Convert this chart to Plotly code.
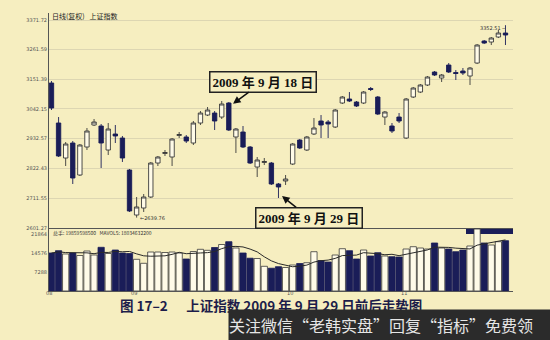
import plotly.graph_objects as go
import pandas as pd

dates = [
    "2009-08-14", "2009-08-17", "2009-08-18", "2009-08-19", "2009-08-20", "2009-08-21",
    "2009-08-24", "2009-08-25", "2009-08-26", "2009-08-27", "2009-08-28", "2009-08-31",
    "2009-09-01", "2009-09-02", "2009-09-03", "2009-09-04", "2009-09-07", "2009-09-08",
    "2009-09-09", "2009-09-10", "2009-09-11", "2009-09-14", "2009-09-15", "2009-09-16",
    "2009-09-17", "2009-09-18", "2009-09-21", "2009-09-22", "2009-09-23", "2009-09-24",
    "2009-09-25", "2009-09-28", "2009-09-29", "2009-09-30",
    "2009-10-09", "2009-10-12", "2009-10-13", "2009-10-14", "2009-10-15", "2009-10-16",
    "2009-10-19", "2009-10-20", "2009-10-21", "2009-10-22", "2009-10-23", "2009-10-26",
    "2009-10-27", "2009-10-28", "2009-10-29", "2009-10-30",
    "2009-11-02", "2009-11-03", "2009-11-04", "2009-11-05", "2009-11-06", "2009-11-09",
    "2009-11-10", "2009-11-11", "2009-11-12", "2009-11-13", "2009-11-16", "2009-11-17",
    "2009-11-18", "2009-11-19", "2009-11-20",
]

open_ = [3138.4, 2990.2, 2860.6, 2916.1, 2797.6, 2901.3, 2982.8, 2979.1, 2890.2, 2949.5, 2934.6, 2816.1,
         2649.4, 2675.4, 2716.1, 2842.0, 2877.2, 2864.3, 2943.9, 2938.4, 2916.1, 2990.2, 3019.8, 3027.2,
         3012.4, 3064.3, 2938.4, 2956.9, 2901.3, 2827.2, 2843.9, 2842.0, 2764.3, 2775.4,
         2838.3, 2927.2, 2890.2, 2949.5, 2997.6, 2993.9, 2975.4, 3064.3, 3079.1, 3068.0, 3064.3, 3118.0,
         3086.5, 3012.4, 2979.1, 3012.4,
         2934.6, 3086.5, 3105.0, 3131.0, 3179.1, 3156.9, 3205.0, 3177.3, 3182.8, 3164.3, 3212.4, 3293.9,
         3290.2, 3308.8, 3323.6]

high = [3145.8, 3012.4, 2919.8, 2923.5, 2912.4, 2971.7, 3005.0, 2986.5, 2990.2, 2982.8, 2942.1, 2819.8,
        2716.1, 2727.2, 2845.8, 2868.0, 2890.2, 2934.6, 2956.9, 2945.8, 2997.6, 3034.7, 3049.5, 3034.7,
        3071.7, 3068.0, 2971.7, 2979.1, 2905.0, 2864.3, 2860.6, 2845.8, 2768.0, 2797.6,
        2916.1, 2930.9, 2942.1, 3008.7, 3019.8, 3001.3, 3042.1, 3090.2, 3105.0, 3071.7, 3108.7, 3123.6,
        3090.2, 3034.7, 2990.2, 3027.2,
        3082.8, 3123.6, 3134.7, 3164.3, 3182.8, 3171.7, 3212.4, 3186.5, 3193.9, 3197.6, 3282.8, 3297.6,
        3308.8, 3334.7, 3352.51]

low = [3038.4, 2864.3, 2830.9, 2764.3, 2793.9, 2890.2, 2979.1, 2823.5, 2871.7, 2916.1, 2845.8, 2660.6,
       2639.76, 2660.6, 2712.4, 2830.9, 2868.0, 2830.9, 2934.6, 2916.1, 2908.7, 2982.8, 3016.1, 2964.3,
       3005.0, 2960.6, 2879.1, 2897.6, 2838.3, 2790.2, 2834.6, 2760.6, 2712.4, 2760.6,
       2834.6, 2893.9, 2886.5, 2945.8, 2934.6, 2934.6, 2971.7, 3060.6, 3068.0, 3049.5, 3060.6, 3108.7,
       3019.8, 2982.8, 2953.2, 2990.2,
       2930.9, 3082.8, 3101.3, 3127.3, 3164.3, 3142.1, 3175.4, 3149.5, 3168.0, 3131.0, 3208.7, 3282.8,
       3279.1, 3305.0, 3279.1]

close = [3045.8, 2868.0, 2912.4, 2786.5, 2908.7, 2960.6, 2993.9, 2916.1, 2968.0, 2942.1, 2860.6, 2664.3,
         2679.1, 2716.1, 2842.0, 2864.3, 2880.9, 2930.9, 2947.6, 2923.5, 2990.2, 3027.2, 3038.4, 2997.6,
         3060.6, 2964.3, 2968.0, 2901.3, 2842.0, 2853.2, 2847.6, 2764.3, 2753.2, 2782.8,
         2912.4, 2897.6, 2938.4, 2971.7, 2982.8, 2986.5, 3038.4, 3086.5, 3071.7, 3053.2, 3105.0, 3114.3,
         3023.5, 3031.0, 2960.6, 2997.6,
         3079.1, 3119.8, 3131.0, 3160.6, 3168.0, 3168.0, 3179.1, 3173.6, 3175.4, 3193.9, 3279.1, 3286.5,
         3305.0, 3323.6, 3316.2]

volume = [14577, 15459, 14193, 14577, 13618, 15344, 13810, 16763, 14385, 15728, 14577, 14385,
          12160, 10626, 14960, 14960, 14769, 14960, 14577, 12275, 15152, 15996, 15613, 16687,
          17837, 18911, 16495, 14577, 12582, 12467, 9475, 8746, 9321, 9015,
          9974, 10549, 10856, 15075, 11700, 11124, 13810, 16226, 15459, 12275, 15728, 13426,
          14692, 13426, 13157, 13042,
          16111, 16993, 16495, 16111, 18413, 16495, 16111, 15075, 15728, 17262, 23783, 18413,
          17646, 18911, 19295]

price_ticks = [2601.27, 2711.55, 2822.43, 2932.57, 3042.15, 3151.39, 3261.59, 3371.72]
vol_ticks = [7288, 14576, 21864]
month_labels = ["08", "09", "10", "11"]

BG = "#f6eec0"
NAVY = "#1a1d58"
HOLLOW = "#fffbe8"
EDGE = "#3a3a3a"

idx = list(range(len(dates)))
up = [c >= o for o, c in zip(open_, close)]
ma5 = pd.Series(volume).rolling(5, min_periods=1).mean().tolist()

# first trading day index of each month
month_first = []
seen = set()
for i, d in enumerate(dates):
    m = d[5:7]
    if m not in seen:
        seen.add(m)
        month_first.append(i)

fig = go.Figure()

fig.add_trace(go.Candlestick(
    x=idx, open=open_, high=high, low=low, close=close,
    increasing=dict(fillcolor=HOLLOW, line=dict(color=EDGE, width=0.9)),
    decreasing=dict(fillcolor=NAVY, line=dict(color=NAVY, width=0.9)),
    whiskerwidth=0, showlegend=False, xaxis="x", yaxis="y", hoverinfo="skip",
))

fig.add_trace(go.Bar(
    x=idx, y=volume, width=0.88,
    marker=dict(color=[HOLLOW if u else NAVY for u in up],
                line=dict(color=[EDGE if u else NAVY for u in up], width=0.8)),
    showlegend=False, xaxis="x2", yaxis="y2", hoverinfo="skip",
))

fig.add_trace(go.Scatter(
    x=idx, y=ma5, mode="lines", line=dict(color="#2a2a2a", width=1),
    showlegend=False, xaxis="x2", yaxis="y2", hoverinfo="skip",
))

split = 0.2266
xr = [-0.35, 65.06]
tickfont = dict(family="DejaVu Sans", size=5, color="#555")

fig.update_layout(
    width=550, height=340,
    margin=dict(l=49, r=37, t=13, b=49),
    paper_bgcolor=BG, plot_bgcolor=BG,
    boxgap=0.12,
    xaxis=dict(domain=[0, 1], anchor="y", range=xr, showticklabels=False, showgrid=False,
               zeroline=False, showline=True, linecolor="#555", linewidth=1,
               rangeslider=dict(visible=False)),
    xaxis2=dict(domain=[0, 1], anchor="y2", range=xr, matches="x", showgrid=False, zeroline=False,
                showline=True, linecolor="#555", linewidth=1, showticklabels=False, ticks=""),
    yaxis=dict(domain=[split, 1], range=[2601.27, 3397.7], tickvals=price_ticks,
               ticktext=[f"{v:.2f}" for v in price_ticks], tickfont=tickfont,
               showgrid=True, gridcolor="#ddd6b2", gridwidth=1, zeroline=False,
               showline=True, linecolor="#555", linewidth=1, ticks=""),
    yaxis2=dict(domain=[0, split], range=[0, 24167], tickvals=vol_ticks,
                ticktext=[str(v) for v in vol_ticks], tickfont=tickfont,
                showgrid=False, zeroline=False, showline=True, linecolor="#555",
                linewidth=1, ticks=""),
)

def px(xp):
    return (xp - 49) / 464.0

def py(yp):
    return (291 - yp) / 278.0

fig.add_shape(type="rect", xref="paper", yref="paper", x0=px(466), x1=1.0, y0=py(234), y1=py(228),
              fillcolor=NAVY, line=dict(width=0), layer="below")

ann = []
# month tick labels just under the volume axis
for i, lab in zip(month_first, month_labels):
    ann.append(dict(text=lab, xref="x2", yref="paper", x=i - 0.35, y=py(292.6),
                    xanchor="center", yanchor="middle", showarrow=False,
                    font=dict(family="DejaVu Sans", size=5, color="#555")))

ann.append(dict(text="日线(复权)   上证指数", xref="paper", yref="paper", x=px(50), y=py(16),
                xanchor="left", yanchor="middle", showarrow=False,
                font=dict(family="Noto Sans CJK SC", size=7, color="#222")))
ann.append(dict(text="总手: 19859598500   MAVOL5: 18034632200", xref="paper", yref="paper",
                x=px(51), y=py(233), xanchor="left", yanchor="middle", showarrow=False,
                font=dict(family="Noto Sans CJK SC", size=5, color="#333")))
ann.append(dict(text="←2639.76", xref="x", yref="y", x=12.2, y=min(low),
                xanchor="left", yanchor="middle", showarrow=False,
                font=dict(family="DejaVu Sans", size=5, color="#333")))
ann.append(dict(text="3352.51 ─", xref="x", yref="y", x=64.3, y=max(high) - 12,
                xanchor="right", yanchor="middle", showarrow=False,
                font=dict(family="DejaVu Sans", size=5, color="#333")))

box_font = dict(family="Liberation Serif, Noto Sans CJK SC", size=13, color="#111")
i18 = dates.index("2009-09-18")
i29 = dates.index("2009-09-29")
ann.append(dict(text="<b>2009 年 9 月 18 日</b>", xref="x", yref="y",
                x=i18 + 0.6, y=open_[i18] - 3, ax=29.5, ay=-22,
                showarrow=True, arrowhead=2, arrowsize=1, arrowwidth=1.5, arrowcolor="#111",
                bgcolor=BG, bordercolor="#222", borderwidth=1.5, borderpad=2, font=box_font))
ann.append(dict(text="<b>2009 年 9 月 29 日</b>", xref="x", yref="y",
                x=i29 + 0.5, y=low[i29] + 7, ax=27, ay=21.5,
                showarrow=True, arrowhead=2, arrowsize=1, arrowwidth=1.5, arrowcolor="#111",
                bgcolor=BG, bordercolor="#222", borderwidth=1.5, borderpad=2, font=box_font))

ann.append(dict(text="<b>图 17–2      上证指数 2009 年 9 月 29 日前后走势图</b>", xref="paper", yref="paper",
                x=px(271), y=py(304.5), xanchor="center", yanchor="middle", showarrow=False,
                font=dict(family="Noto Sans CJK SC", size=13.5, color="#1d1d4a")))
ann.append(dict(text="关注微信“老韩实盘”回复“指标”免费领", xref="paper", yref="paper",
                x=px(228), y=py(325), xanchor="left", yanchor="middle", showarrow=False,
                width=322, height=30, align="left", bgcolor="#2b2b2b", borderpad=0,
                font=dict(family="Noto Sans CJK SC", size=16, color="#e6e6e6")))

fig.update_layout(annotations=ann)

fig.write_html("out.html")
